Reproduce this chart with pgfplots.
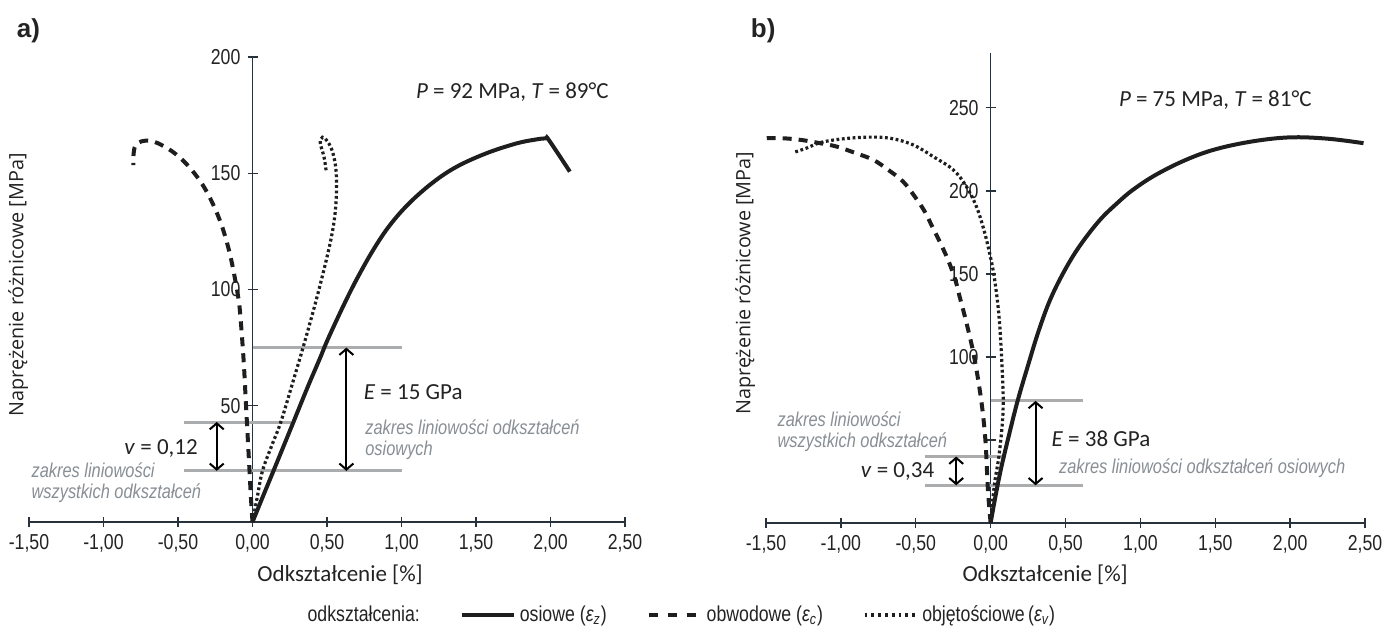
\documentclass[border=0pt]{standalone}
\usepackage{fontspec}
\setmainfont{Carlito}
\newfontfamily\narrow[FakeStretch=0.82]{Liberation Sans}
\newfontfamily\opensans{Open Sans}
\newfontfamily\headfont{Liberation Sans}
\usepackage{pgfplots}
\pgfplotsset{compat=1.18}
\usetikzlibrary{arrows.meta}

\definecolor{curve}{RGB}{30,30,30}
\definecolor{guide}{RGB}{170,172,174}
\definecolor{notec}{RGB}{135,142,148}
\definecolor{axisc}{RGB}{40,50,60}
\definecolor{txt}{RGB}{35,35,35}

\tikzset{
  axial/.style={curve, line width=2pt, smooth, tension=0.6},
  circ/.style={curve, line width=2pt, dash pattern=on 4.5pt off 3.5pt, smooth, tension=0.6},
  vol/.style={curve, line width=1.6pt, dash pattern=on 1.4pt off 1.3pt, smooth, tension=0.6},
  guideline/.style={guide, line width=1.5pt},
  arr/.style={black, line width=1pt, {Straight Barb[length=3pt,width=7pt]}-{Straight Barb[length=3pt,width=7pt]}},
  val/.style={font=\fontsize{11.5}{13}\selectfont, text=txt},
  notestyle/.style={font=\narrow\itshape\fontsize{10}{10.5}\selectfont, text=notec, align=left},
  head/.style={font=\headfont\bfseries\fontsize{13}{14}\selectfont, text=txt, anchor=west},
}

\pgfplotsset{
  panel/.style={
    scale only axis,
    axis lines=middle,
    axis line style={axisc, line width=0.7pt, -},
    xmin=-1.5, xmax=2.5, ymin=0,
    xtick={-1.5,-1,-0.5,0,0.5,1,1.5,2,2.5},
    xticklabels={{-1,50},{-1,00},{-0,50},{0,00},{0,50},{1,00},{1,50},{2,00},{2,50}},
    hide obscured x ticks=false, hide obscured y ticks=false,
    tick align=center, major tick length=5pt,
    tick style={axisc, line width=0.7pt},
    tick label style={font=\narrow\fontsize{10.8}{12}\selectfont, text=txt},
    clip=false,
    xlabel={Odkształcenie [\%]},
    ylabel={Naprężenie różnicowe [MPa]},
    xlabel style={font=\fontsize{11.5}{13}\selectfont, text=txt, anchor=center},
    ylabel style={font=\opensans\fontsize{9.9}{11}\selectfont, text=txt, rotate=90, anchor=center},
  },
}

\begin{document}
\begin{tikzpicture}
\path[use as bounding box] (0,0) rectangle (697.5pt,-313pt);

% ---------------- a)
\begin{axis}[panel,
  at={(14.5pt,-261pt)}, anchor=south west,
  width=298pt, height=232.5pt, ymax=200,
  ytick={50,100,150,200}, yticklabels={50,100,150,200},
  xlabel style={at={(axis description cs:0.522,-0.114)}},
  ylabel style={at={(axis description cs:-0.018,0.51)}},
  legend columns=4,
  legend style={draw=none, fill=none, at={(axis description cs:0.45,-0.2)}, anchor=west,
    font=\narrow\fontsize{10.8}{12}\selectfont, text=txt,
    /tikz/every even column/.append style={column sep=18pt}},
  legend image code/.code={\draw[#1] (0pt,0pt) -- (26pt,0pt);},
]
\addlegendimage{empty legend}
\addlegendimage{curve, line width=2pt}
\addlegendimage{curve, line width=2pt, dash pattern=on 4.5pt off 5pt}
\addlegendimage{curve, line width=1.6pt, dash pattern=on 1.4pt off 2pt}
\legend{odkształcenia:, osiowe ({\itshape ε}\textsubscript{\itshape z}), obwodowe ({\itshape ε}\textsubscript{\itshape c}), objętościowe\,({\itshape ε}\textsubscript{\itshape v})}

\addplot[guideline] coordinates {(0,75) (1.0,75)};
\addplot[guideline] coordinates {(-0.46,43) (0.26,43)};
\addplot[guideline] coordinates {(-0.46,22) (1.0,22)};

% axial
\addplot[axial] coordinates {
(0,0) (0.07,11) (0.144,22.5) (0.262,41) (0.37,58) (0.45,70) (0.505,78.5)
(0.61,93) (0.70,104.5) (0.81,117) (0.92,127.5) (1.05,137) (1.21,146)
(1.37,152.8) (1.57,158.6) (1.77,162.8) (1.9,164.5) (1.97,165) (1.99,164.2) (2.13,150.7)};
% circumferential
\addplot[circ] coordinates {
(0,0) (-0.01,10) (-0.02,22) (-0.035,40) (-0.045,52) (-0.06,70) (-0.083,89.8)
(-0.098,97.6) (-0.12,105.5) (-0.145,113.4) (-0.175,121) (-0.212,128.5) (-0.26,136)
(-0.32,143.5) (-0.39,150) (-0.47,155.7) (-0.57,160.7) (-0.69,164) (-0.785,162) (-0.8,153.5)};
% volumetric
\addplot[vol] coordinates {
(0,0) (0.03,10) (0.067,22) (0.13,33) (0.19,43) (0.27,60) (0.36,79.7) (0.45,101)
(0.53,122.7) (0.56,137) (0.562,150) (0.54,158.6) (0.505,163.6) (0.47,165.5)
(0.455,163) (0.48,157) (0.495,150.7)};

\addplot[arr] coordinates {(0.63,22) (0.63,75)};
\addplot[arr] coordinates {(-0.24,22) (-0.24,43)};

\node[val, anchor=west] at (axis cs:0.70,56) {\textit{E} = 15 GPa};
\node[notestyle, anchor=west] at (axis cs:0.71,35.2) {zakres liniowości odkształceń\\osiowych};
\node[val, anchor=east] at (axis cs:-0.32,31.8) {\textit{v} = 0,12};
\node[notestyle, anchor=west] at (axis cs:-1.53,16.8) {zakres liniowości\\wszystkich odkształceń};
\node[val, anchor=west] at (axis cs:1.05,185) {\textit{P} = 92 MPa, \textit{T} = 89°C};
\node[head] at (axis description cs:-0.032,1.056) {a)};
\end{axis}

% ---------------- b)
\begin{axis}[panel,
  at={(383pt,-261.5pt)}, anchor=south west,
  width=299.5pt, height=235pt, ymax=283,
  ytick={50,100,150,200,250}, yticklabels={,100,150,200,250},
  xlabel style={at={(axis description cs:0.466,-0.11)}},
  ylabel style={at={(axis description cs:-0.035,0.51)}},
]
\addplot[guideline] coordinates {(0,73.5) (0.62,73.5)};
\addplot[guideline] coordinates {(-0.44,40) (0.1,40)};
\addplot[guideline] coordinates {(-0.44,22.7) (0.62,22.7)};

% axial
\addplot[axial] coordinates {
(0,0) (0.03,15) (0.07,33) (0.12,52) (0.18,73.5) (0.25,95) (0.32,115.5)
(0.4,135) (0.5,153) (0.6,167.5) (0.73,182.5) (0.85,193) (0.95,200.6)
(1.1,209.5) (1.3,218.5) (1.5,225) (1.75,229.8) (2.0,232.2) (2.25,231.4) (2.49,228.7)};
% circumferential
\addplot[circ] coordinates {
(0,0) (-0.01,10) (-0.02,23) (-0.035,50) (-0.063,74) (-0.11,100) (-0.16,120)
(-0.207,136.3) (-0.236,146.4) (-0.28,157.4) (-0.33,167.5) (-0.385,177.5)
(-0.44,187.5) (-0.507,196.6) (-0.585,205.6) (-0.685,212.7) (-0.785,218.7)
(-0.91,223) (-1.03,226.7) (-1.14,228.7) (-1.27,230.7) (-1.395,231.7) (-1.495,231.7)};
% volumetric
\addplot[vol] coordinates {
(0,0) (0.025,23) (0.055,40) (0.078,60) (0.084,74) (0.078,90) (0.07,105)
(0.06,120) (0.045,134) (0.02,150.4) (-0.007,162.5) (-0.045,176.5) (-0.095,190.5)
(-0.162,202.6) (-0.25,212.7) (-0.385,220.7) (-0.518,227.7) (-0.673,231.7)
(-0.83,232.3) (-1.007,231.1) (-1.14,229) (-1.23,225.7) (-1.32,223)};

\addplot[arr] coordinates {(0.30,22.7) (0.30,73.5)};
\addplot[arr] coordinates {(-0.23,22.7) (-0.23,40)};

\node[val, anchor=west] at (axis cs:0.36,50.6) {\textit{E} = 38 GPa};
\node[notestyle, anchor=west] at (axis cs:0.41,33) {zakres liniowości odkształceń osiowych};
\node[val, anchor=east] at (axis cs:-0.33,31) {\textit{v} = 0,34};
\node[notestyle, anchor=west] at (axis cs:-1.47,55) {zakres liniowości\\wszystkich odkształceń};
\node[val, anchor=west] at (axis cs:0.81,254.8) {\textit{P} = 75 MPa, \textit{T} = 81°C};
\node[head] at (axis description cs:-0.037,1.047) {b)};
\end{axis}
\end{tikzpicture}
\end{document}
